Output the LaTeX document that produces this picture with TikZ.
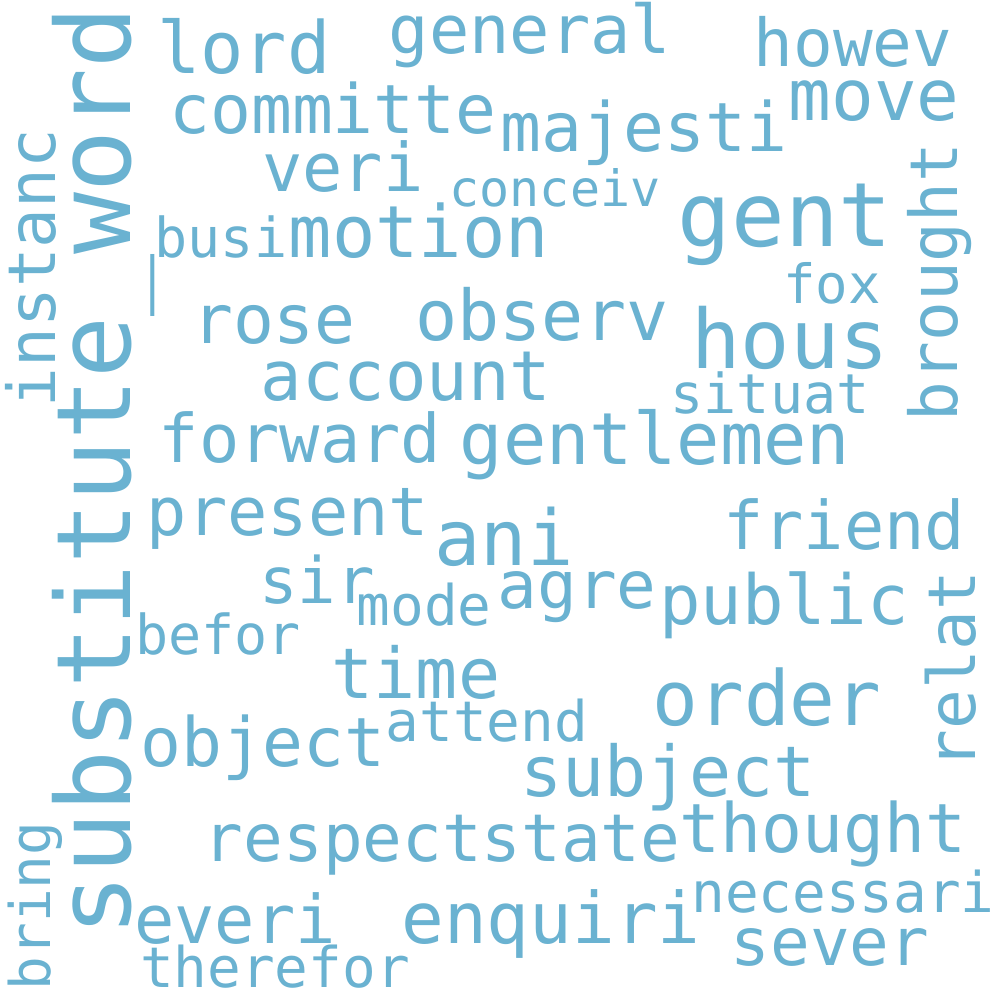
\documentclass[tikz,border=0pt]{standalone}
\usepackage{fontspec}
\setmonofont{DejaVu Sans Mono}
\definecolor{cloudblue}{RGB}{106,178,209}
\tikzset{word/.style={text=cloudblue, inner sep=0pt, anchor=base,
    font=\ttfamily\fontsize{#1}{#1}\selectfont}}

\begin{document}
\begin{tikzpicture}[x=1pt,y=-1pt]

  \fill[white] (0,0) rectangle (1000,1000);
  \useasboundingbox (0,0) rectangle (1000,1000);

  % upright words
  \node[word=72] (w_lord)      at (244,74)  {lord};
  \node[word=67] (w_general)   at (530,54)  {general};
  \node[word=66] (w_howev)     at (853,67)  {howev};
  \node[word=68] (w_committe)  at (333,134) {committe};
  \node[word=71] (w_move)      at (874,121) {move};
  \node[word=68] (w_majesti)   at (644,152) {majesti};
  \node[word=67] (w_veri)      at (343,192) {veri};
  \node[word=50] (w_conceiv)   at (555,207) {conceiv};
  \node[word=55] (w_busi)      at (221,257) {busi};
  \node[word=72] (w_motion)    at (419,258) {motion};
  \node[word=89] (w_gent)      at (785,246) {gent};
  \node[word=54] (w_fox)       at (832,303) {fox};
  \node[word=68] (w_rose)      at (274,343) {rose};
  \node[word=70] (w_observ)    at (542,340) {observ};
  \node[word=82] (w_hous)      at (790,368) {hous};
  \node[word=69] (w_account)   at (406,400) {account};
  \node[word=55] (w_situat)    at (770,413) {situat};
  \node[word=67] (w_forward)   at (300,462) {forward};
  \node[word=72] (w_gentlemen) at (655,464) {gentlemen};
  \node[word=67] (w_present)   at (288,535) {present};
  \node[word=77] (w_ani)       at (504,565) {ani};
  \node[word=67] (w_friend)    at (844,549) {friend};
  \node[word=64] (w_sir)       at (317,603) {sir};
  \node[word=56] (w_mode)      at (424,625) {mode};
  \node[word=66] (w_agre)      at (577,608) {agre};
  \node[word=69] (w_public)    at (784,624) {public};
  \node[word=55] (w_befor)     at (218,654) {befor};
  \node[word=70] (w_time)      at (416,698) {time};
  \node[word=76] (w_order)     at (767,725) {order};
  \node[word=56] (w_attend)    at (487,741) {attend};
  \node[word=68] (w_object)    at (263,766) {object};
  \node[word=70] (w_subject)   at (668,796) {subject};
  \node[word=66] (w_respect)   at (343,861) {respect};
  \node[word=66] (w_state)     at (581,861) {state};
  \node[word=68] (w_thought)   at (823,852) {thought};
  \node[word=56] (w_necessari) at (843,912) {necessari};
  \node[word=71] (w_enquiri)   at (551,943) {enquiri};
  \node[word=67] (w_everi)     at (235,943) {everi};
  \node[word=66] (w_sever)     at (830,965) {sever};
  \node[word=56] (w_therefor)  at (275,987) {therefor};

  % words turned upward
  \node[word=103,rotate=90] (w_substitute) at (130,471) {substitute\_word};
  \node[word=66,rotate=90]  (w_instanc)    at (55,268)  {instanc};
  \node[word=66,rotate=90]  (w_brought)    at (957,282) {brought};
  \node[word=66,rotate=90]  (w_relat)      at (975,670) {relat};
  \node[word=56,rotate=90]  (w_bring)      at (50,906)  {bring};

\end{tikzpicture}
\end{document}
